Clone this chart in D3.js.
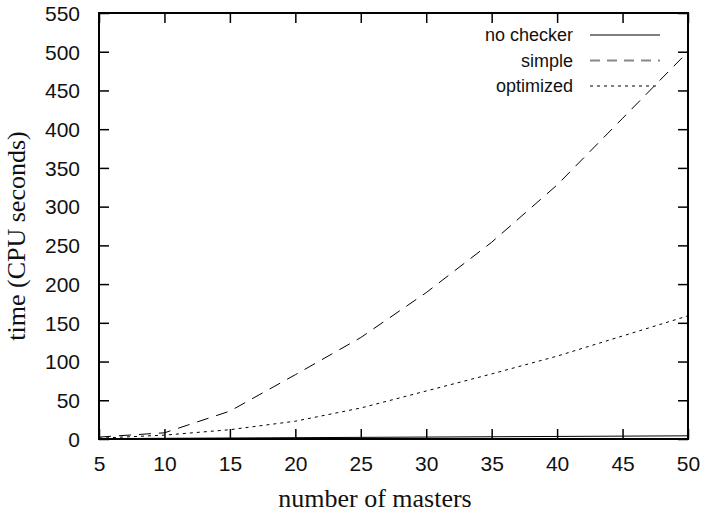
<!DOCTYPE html>
<html>
<head>
<meta charset="utf-8">
<script src="https://cdn.jsdelivr.net/npm/d3@7"></script>
<style>
  html, body { margin: 0; padding: 0; background: #fff; }
  svg { display: block; }
</style>
</head>
<body>
<svg id="chart" width="703" height="516"></svg>
<script>
// Masters counted along the x axis
const masters = [5, 10, 15, 20, 25, 30, 35, 40, 45, 50];

// CPU time (seconds) for each checker variant
const noChecker = [0.5, 0.9, 1.3, 1.7, 2.1, 2.5, 2.9, 3.3, 3.7, 4.1];
const simple    = [2.5, 8, 36, 83, 131, 189, 254, 328, 414, 500];
const optimized = [1, 5, 12, 23, 40, 62, 84, 107, 133, 159];

const xTickValues = [5, 10, 15, 20, 25, 30, 35, 40, 45, 50];
const yTickValues = [0, 50, 100, 150, 200, 250, 300, 350, 400, 450, 500, 550];

const seriesNames = ["no checker", "simple", "optimized"];
const seriesData = [noChecker, simple, optimized];

const svg = d3.select("#chart");
const margin = { left: 99, right: 15, top: 13, bottom: 77 };
const W = 703, H = 516;

const x = d3.scaleLinear().domain([5, 50]).range([margin.left, W - margin.right]);
const y = d3.scaleLinear().domain([0, 550]).range([H - margin.bottom, margin.top]);

const styles = [
  { dash: null, color: "#000", width: 1 },
  { dash: "12,8", color: "#000", width: 1 },
  { dash: "3,4", color: "#000", width: 1 }
];

const tickFont = "'Liberation Sans', Arial, Helvetica, sans-serif";
const titleFont = "'Liberation Serif', 'Times New Roman', serif";

// Curves
const line = d3.line().x((d, i) => x(masters[i])).y(d => y(d));
seriesData.forEach((vals, k) => {
  svg.append("path")
    .datum(vals)
    .attr("d", line)
    .attr("fill", "none")
    .attr("stroke", styles[k].color)
    .attr("stroke-width", styles[k].width)
    .attr("stroke-dasharray", styles[k].dash);
});

// Axes with inward ticks, mirrored on the opposite sides
const tickLen = 10;
const axisBottom = d3.axisBottom(x).tickValues(xTickValues).tickSize(-tickLen).tickPadding(17).tickSizeOuter(0);
const axisTop = d3.axisTop(x).tickValues(xTickValues).tickSize(-tickLen).tickFormat("").tickSizeOuter(0);
const axisLeft = d3.axisLeft(y).tickValues(yTickValues).tickSize(-tickLen).tickPadding(19).tickSizeOuter(0);
const axisRight = d3.axisRight(y).tickValues(yTickValues).tickSize(-tickLen).tickFormat("").tickSizeOuter(0);

function styleAxis(g) {
  g.select(".domain").remove();
  g.selectAll(".tick line").attr("stroke", "#000").attr("stroke-width", 1.5);
  g.selectAll(".tick text")
    .attr("fill", "#111")
    .style("font-family", tickFont)
    .style("font-size", "21px");
}

svg.append("g").attr("transform", `translate(0,${y(0)})`).call(axisBottom).call(styleAxis);
svg.append("g").attr("transform", `translate(0,${y(550)})`).call(axisTop).call(styleAxis);
svg.append("g").attr("transform", `translate(${x(5)},0)`).call(axisLeft).call(styleAxis)
  .selectAll(".tick text").attr("dy", "0.35em");
svg.append("g").attr("transform", `translate(${x(50)},0)`).call(axisRight).call(styleAxis);

// Frame
svg.append("rect")
  .attr("x", x(5)).attr("y", y(550))
  .attr("width", x(50) - x(5)).attr("height", y(0) - y(550))
  .attr("fill", "none").attr("stroke", "#000").attr("stroke-width", 2);

// Axis titles
svg.append("text")
  .attr("x", 375).attr("y", 507)
  .attr("text-anchor", "middle")
  .style("font-family", titleFont).style("font-size", "26px").attr("fill", "#111")
  .text("number of masters");

svg.append("text")
  .attr("transform", "translate(25,236) rotate(-90)")
  .attr("text-anchor", "middle")
  .style("font-family", titleFont).style("font-size", "26px").attr("fill", "#111")
  .text("time (CPU seconds)");

// Legend
const legendStyles = [
  { dash: null, color: "#000", width: 1.2 },
  { dash: "10,7", color: "#888", width: 2 },
  { dash: "3,4", color: "#000", width: 1 }
];
const legend = svg.append("g");
seriesNames.forEach((name, k) => {
  const ly = 35 + k * 25.5;
  legend.append("text")
    .attr("x", 573).attr("y", ly).attr("dy", "0.35em")
    .attr("text-anchor", "end")
    .style("font-family", tickFont).style("font-size", "18px").attr("fill", "#111")
    .text(name);
  legend.append("line")
    .attr("x1", 590).attr("x2", 660).attr("y1", ly).attr("y2", ly)
    .attr("stroke", legendStyles[k].color)
    .attr("stroke-width", legendStyles[k].width)
    .attr("stroke-dasharray", legendStyles[k].dash);
});
</script>
</body>
</html>
